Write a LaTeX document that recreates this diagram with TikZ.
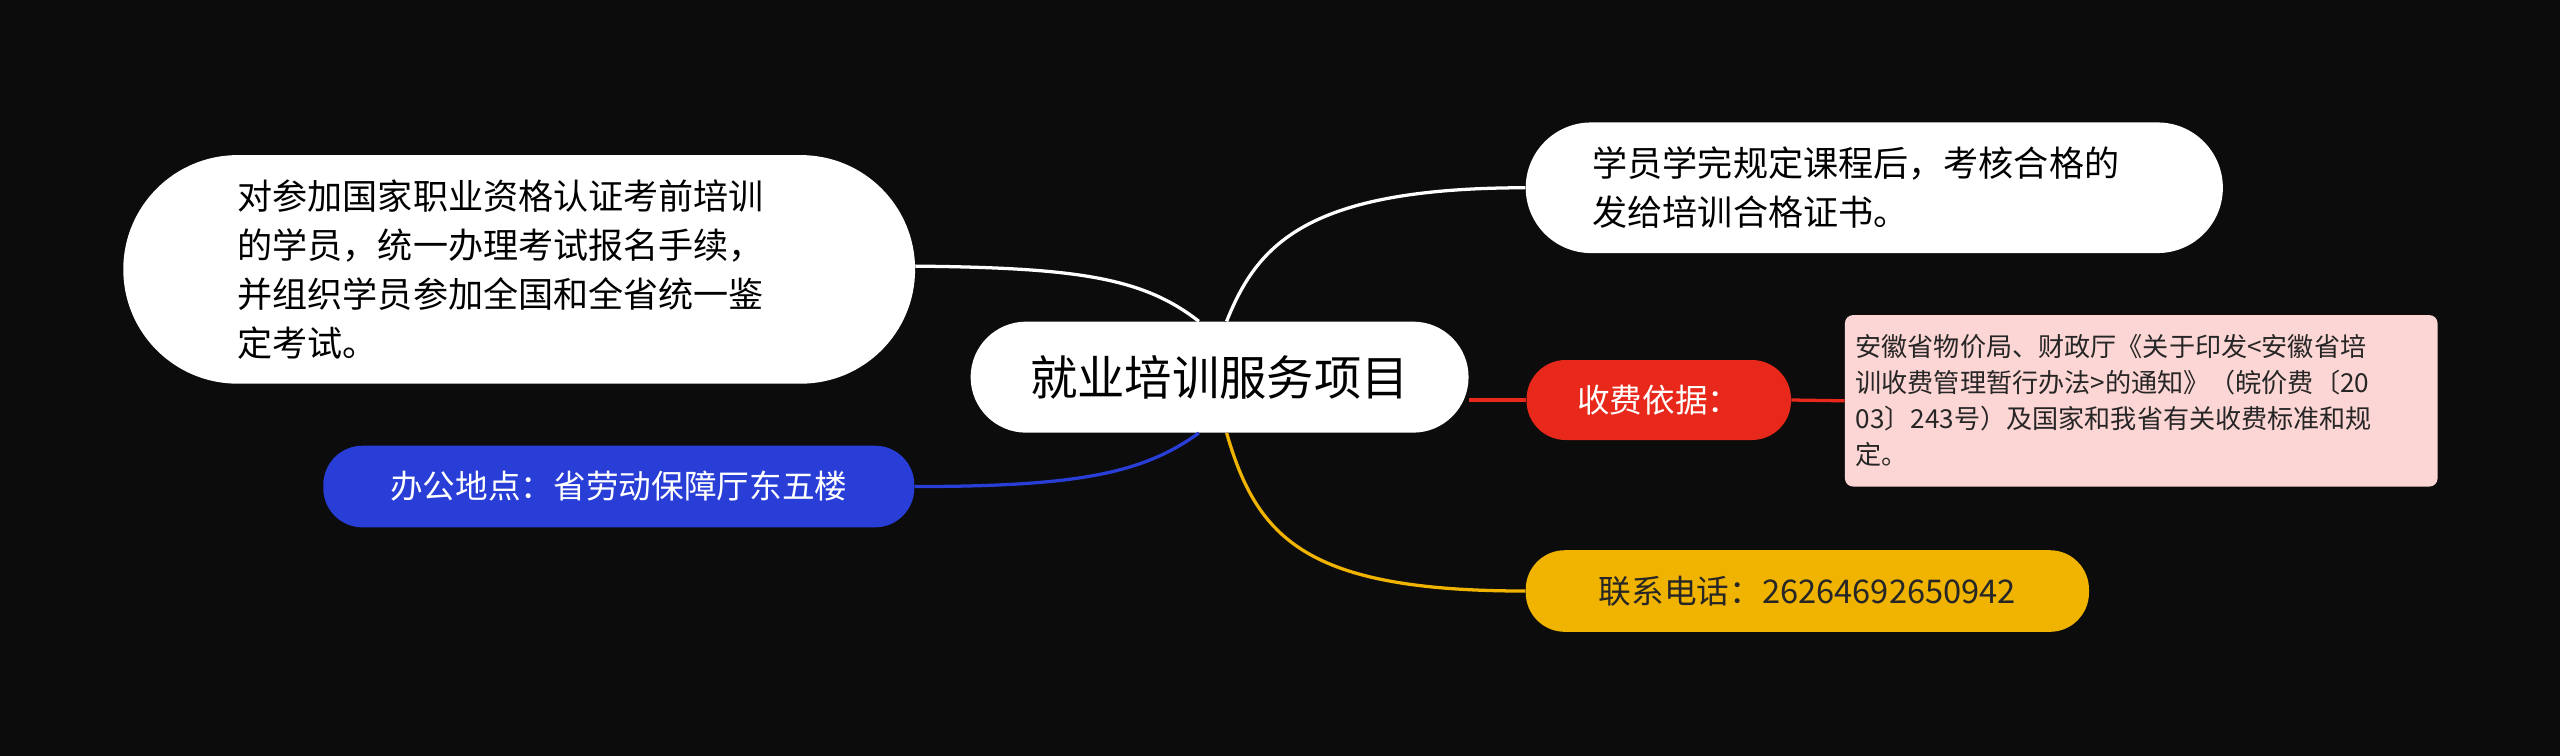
\documentclass[tikz,border=0pt]{standalone}
\usepackage{fontspec}
\setmainfont{Noto Sans CJK SC}
\usetikzlibrary{positioning}
\definecolor{bg}{RGB}{12,12,12}
\definecolor{bluenode}{RGB}{40,62,214}
\definecolor{rednode}{RGB}{232,40,26}
\definecolor{yellownode}{RGB}{240,180,0}
\definecolor{pinknode}{RGB}{252,214,212}
\tikzset{
    x=1pt, y=-1pt,
    % pill shaped topic
    pill/.style={
        rounded corners=24pt,
        inner sep=0pt,
        font=\fontsize{20}{30}\selectfont,
    },
    white pill/.style={pill, fill=white, text=black},
    link/.style={line width=2pt},
}
\begin{document}
\begin{tikzpicture}
    \fill[bg] (0,0) rectangle (1568,463);
    % central topic
    \node[white pill, rounded corners=34pt, minimum width=305pt, minimum height=68pt,
          font=\fontsize{29}{32}\selectfont] (root) at (747,231) {就业培训服务项目};
    % left side
    \node[white pill, rounded corners=70pt, minimum width=485pt, minimum height=140pt,
          text width=345pt, align=left, font=\fontsize{21.5}{30}\selectfont] (exam) at (318,165)
          {对参加国家职业资格认证考前培训\\的学员，统一办理考试报名手续，\\并组织学员参加全国和全省统一鉴\\定考试。};
    \node[pill, fill=bluenode, text=white, minimum width=362pt, minimum height=50pt] (office)
          at (379,298) {办公地点：省劳动保障厅东五楼};
    % right side
    \node[white pill, rounded corners=40pt, minimum width=427pt, minimum height=80pt,
          text width=345pt, align=left, font=\fontsize{21.5}{30}\selectfont] (cert) at (1148,115)
          {学员学完规定课程后，考核合格的\\发给培训合格证书。};
    \node[pill, fill=rednode, text=white, minimum width=162pt, minimum height=49pt] (fee)
          at (1016,245) {收费依据：};
    \node[fill=pinknode, rounded corners=5pt, minimum width=363pt, minimum height=105pt,
          inner sep=0pt, text width=350pt, align=left, text=black!85,
          font=\fontsize{16}{22}\selectfont] (basis) at (1311.5,245.5)
          {安徽省物价局、财政厅《关于印发<安徽省培\\训收费管理暂行办法>的通知》（皖价费〔20\\03〕243号）及国家和我省有关收费标准和规\\定。};
    \node[pill, fill=yellownode, text=black!85, minimum width=345pt, minimum height=50pt] (phone)
          at (1107,362) {联系电话：26264692650942};
    % connectors
    \draw[link, white] (root.north west) ++(140,0)
          .. controls (700,170) and (660,164) .. (exam.east |- 0,163);
    \draw[link, bluenode] (root.south west) ++(140,0)
          .. controls (700,290) and (660,298) .. (office.east);
    \draw[link, white] (root.north west) ++(157,0)
          .. controls (770,150) and (800,115) .. (cert.west);
    \draw[link, yellownode] (root.south west) ++(157,0)
          .. controls (770,330) and (800,362) .. (phone.west);
    \draw[link, rednode] (root.east |- fee.west) -- (fee.west);
    \draw[link, rednode] (fee.east) -- (basis.west);
\end{tikzpicture}
\end{document}
